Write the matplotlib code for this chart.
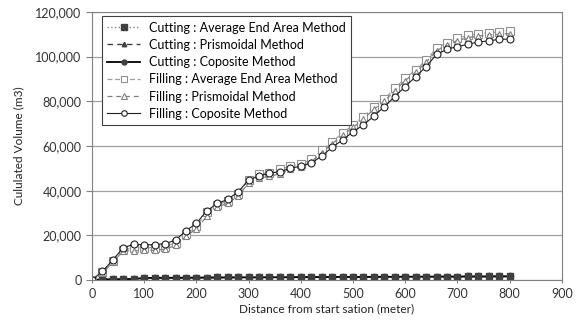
import numpy as np
import matplotlib
matplotlib.use("Agg")
from matplotlib import pyplot as plt
from matplotlib.ticker import FuncFormatter

plt.rcParams['font.family'] = ['Lato', 'DejaVu Sans']

# stations every 20 m
station = list(range(0, 820, 20))

cut_avg = [0, 300, 350, 400, 500, 900, 1000, 1000, 1050, 1050,
           1100, 1100, 1150, 1150, 1200, 1200, 1200, 1250, 1250, 1300,
           1300, 1300, 1350, 1350, 1400, 1400, 1400, 1450, 1450, 1450,
           1500, 1500, 1500, 1550, 1550, 1550, 1600, 1600, 1600, 1650, 1650]
cut_pri = [0, 280, 330, 380, 480, 880, 980, 980, 1030, 1030,
           1080, 1080, 1130, 1130, 1180, 1180, 1180, 1230, 1230, 1280,
           1280, 1280, 1330, 1330, 1380, 1380, 1380, 1430, 1430, 1430,
           1480, 1480, 1480, 1530, 1530, 1530, 1580, 1580, 1580, 1630, 1630]
cut_comp = [0, 290, 340, 390, 490, 890, 990, 990, 1040, 1040,
            1090, 1090, 1140, 1140, 1190, 1190, 1190, 1240, 1240, 1290,
            1290, 1290, 1340, 1340, 1390, 1390, 1390, 1440, 1440, 1440,
            1490, 1490, 1490, 1540, 1540, 1540, 1590, 1590, 1590, 1640, 1640]

fill_avg = [0, 3500, 8500, 13500, 14500, 14500, 14500, 15000, 16800, 20500,
            24000, 30500, 33500, 35500, 38500, 45000, 47500, 48000, 49500, 51000,
            52000, 54000, 58000, 62000, 65700, 69400, 73000, 77600, 81000, 85800,
            90300, 94000, 98500, 103700, 106300, 108200, 109500, 110200, 110700, 111000, 111300]
fill_pri = [0, 3000, 8000, 13000, 13200, 13300, 13300, 13800, 15500, 19500,
            23000, 28500, 32500, 34500, 37500, 43500, 45500, 46500, 47500, 49500,
            50500, 53000, 57000, 61000, 64700, 68400, 72000, 76500, 80000, 84800,
            89300, 93000, 97500, 102700, 105300, 107200, 108500, 109200, 109700, 110000, 110300]
fill_comp = [0, 3900, 9000, 14500, 16000, 15800, 15800, 16300, 17900, 22000,
             25400, 31000, 34300, 36100, 39500, 44800, 46600, 47800, 48500, 50000,
             51000, 52300, 55500, 59400, 62700, 66400, 69400, 73400, 77600, 82100,
             86600, 91000, 95500, 101000, 103300, 104500, 105500, 106600, 107000, 107800, 107800]

fig = plt.figure(figsize=(5.8, 3.23), dpi=100)
ax = fig.add_axes([0.1586, 0.133, 0.81, 0.83])

dark = '#404040'
ax.plot(station, cut_avg, ls=':', color='#808080', lw=1, marker='s', ms=5,
        mfc=dark, mec=dark, label='Cutting : Average End Area Method')
ax.plot(station, cut_pri, ls=(0, (4, 3)), color=dark, lw=1, marker='^', ms=4,
        mfc=dark, mec=dark, label='Cutting : Prismoidal Method')
ax.plot(station, cut_comp, ls='-', color='black', lw=1.3, marker='o', ms=4.5,
        mfc=dark, mec=dark, label='Cutting : Coposite Method')
ax.plot(station, fill_avg, ls=(0, (4, 2)), color='#a0a0a0', lw=0.9, marker='s', ms=6,
        mfc='white', mec='#909090', mew=0.8, label='Filling : Average End Area Method')
ax.plot(station, fill_pri, ls=(0, (4, 3)), color='#808080', lw=0.9, marker='^', ms=5,
        mfc='white', mec='#808080', mew=0.8, label='Filling : Prismoidal Method')
ax.plot(station, fill_comp, ls='-', color='#202020', lw=0.8, marker='o', ms=5,
        mfc='white', mec='#202020', mew=0.8, label='Filling : Coposite Method')

ax.set_xlim(0, 900)
ax.set_ylim(0, 120000)
ax.set_xticks(range(0, 1000, 100))
ax.set_yticks(range(0, 140000, 20000))
ax.yaxis.set_major_formatter(FuncFormatter(lambda v, p: f'{int(v):,}'))
ax.grid(axis='y', color='#a0a0a0', lw=0.9)
ax.set_axisbelow(True)
for s in ax.spines.values():
    s.set_color('#808080')
ax.tick_params(axis='both', colors='#808080', labelcolor='#333333', labelsize=9, length=4)
ax.tick_params(axis='x', direction='inout', length=5)

ax.set_xlabel('Distance from start sation (meter)', fontsize=8.5, color='#222222', labelpad=2)
ax.set_ylabel('Cululated Volume (m3)', fontsize=8.5, color='#222222', labelpad=8)

leg = ax.legend(loc='upper left', bbox_to_anchor=(0.021, 0.985), fontsize=9,
                fancybox=False, framealpha=1, edgecolor='#404040',
                handlelength=2.6, handletextpad=0.7, labelspacing=0.42,
                borderpad=0.45, borderaxespad=0, markerscale=0.8)
leg.get_frame().set_linewidth(0.8)

fig.savefig('out.png', dpi=100)
